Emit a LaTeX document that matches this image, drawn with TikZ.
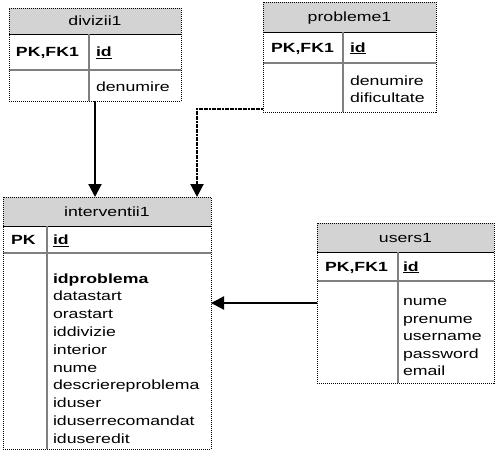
\documentclass[tikz,border=0pt]{standalone}
\usepackage{fontspec}
\setmainfont{Liberation Sans}[FakeStretch=1.33]
\usetikzlibrary{arrows.meta}
\definecolor{hdrgray}{RGB}{211,211,211}
\definecolor{divgray}{RGB}{128,128,128}
\newcommand\tabfont{\fontsize{13.3}{17}\selectfont}
\begin{document}
\begin{tikzpicture}[x=1pt,y=-1pt,
  every node/.style={font=\tabfont, inner sep=0pt, outer sep=0pt},
  hdr/.style={fill=hdrgray, draw=none, anchor=north west, text height=9.3pt, text depth=0pt},
  tbox/.style={draw=black, densely dotted, line width=1pt, anchor=north west},
  fld/.style={anchor=base west},
  key/.style={anchor=base west, font=\tabfont\bfseries},
  sep/.style={draw=divgray, line width=2pt},
  hline/.style={draw=black, line width=1pt},
  conn/.style={line width=2pt, -{Triangle[width=13pt,length=13pt]}},
  dotconn/.style={dash pattern=on 2pt off 0.6pt}
]
\useasboundingbox (0,0) rectangle (497,451);

% ---------- divizii1 ----------
\node[hdr, minimum width=172pt, minimum height=26pt] (divh) at (9,8) {divizii1};
\draw[hline] (divh.south west) -- (divh.south east);
\draw[sep] (9,70) -- (181,70);
\draw[sep] (89,34) -- (89,101);
\node[key] (divpk) at (16,56.5) {PK,FK1};
\node[key] (divid) at (96,56.5) {\underline{id}};
\node[fld] (divf1) at (96,91.5) {denumire};
\node[tbox, minimum width=172pt, minimum height=93pt] (div) at (9,8) {};

% ---------- probleme1 ----------
\node[hdr, minimum width=173pt, minimum height=30pt] (probh) at (263,2) {probleme1};
\draw[hline] (probh.south west) -- (probh.south east);
\draw[sep] (263,63) -- (436,63);
\draw[sep] (343,32) -- (343,112);
\node[key] (probpk) at (271,52) {PK,FK1};
\node[key] (probid) at (350,52) {\underline{id}};
\node[fld] (probf1) at (350,85) {denumire};
\node[fld] (probf2) at (350,102.5) {dificultate};
\node[tbox, minimum width=173pt, minimum height=110pt] (prob) at (263,2) {};

% ---------- interventii1 ----------
\node[hdr, minimum width=208pt, minimum height=29pt] (inth) at (3,197) {interventii1};
\draw[hline] (inth.south west) -- (inth.south east);
\draw[sep] (3,253) -- (211,253);
\draw[sep] (47,226) -- (47,449);
\node[key] (intpk) at (11,244.7) {PK};
\node[key] (intid) at (53,244.7) {\underline{id}};
\node[key] (intf0) at (53,283) {idproblema};
\foreach \t [count=\i] in {datastart,orastart,iddivizie,interior,nume,descriereproblema,iduser,iduserrecomandat,iduseredit}
  \node[fld] (intf\i) at (53,283+\i*17.8) {\t};
\node[tbox, minimum width=208pt, minimum height=252pt] (int) at (3,197) {};

% ---------- users1 ----------
\node[hdr, minimum width=177pt, minimum height=29pt] (usrh) at (317,223) {users1};
\draw[hline] (usrh.south west) -- (usrh.south east);
\draw[sep] (317,281) -- (494,281);
\draw[sep] (398,252) -- (398,383);
\node[key] (usrpk) at (325,271) {PK,FK1};
\node[key] (usrid) at (403,271) {\underline{id}};
\foreach \t [count=\i from 0] in {nume,prenume,username,password,email}
  \node[fld] (usrf\i) at (403,305.5+\i*17.5) {\t};
\node[tbox, minimum width=177pt, minimum height=160pt] (usr) at (317,223) {};

% ---------- connectors ----------
\draw[conn] (div.south) -- (div.south |- int.north);
\coordinate (pj) at ([yshift=3pt]prob.south west);
\coordinate (ij) at ([xshift=194pt]int.north west);
\draw[conn, dotconn] (pj) -| (ij);
\draw[conn] (usr.west) -- (usr.west -| int.east);
\end{tikzpicture}
\end{document}
